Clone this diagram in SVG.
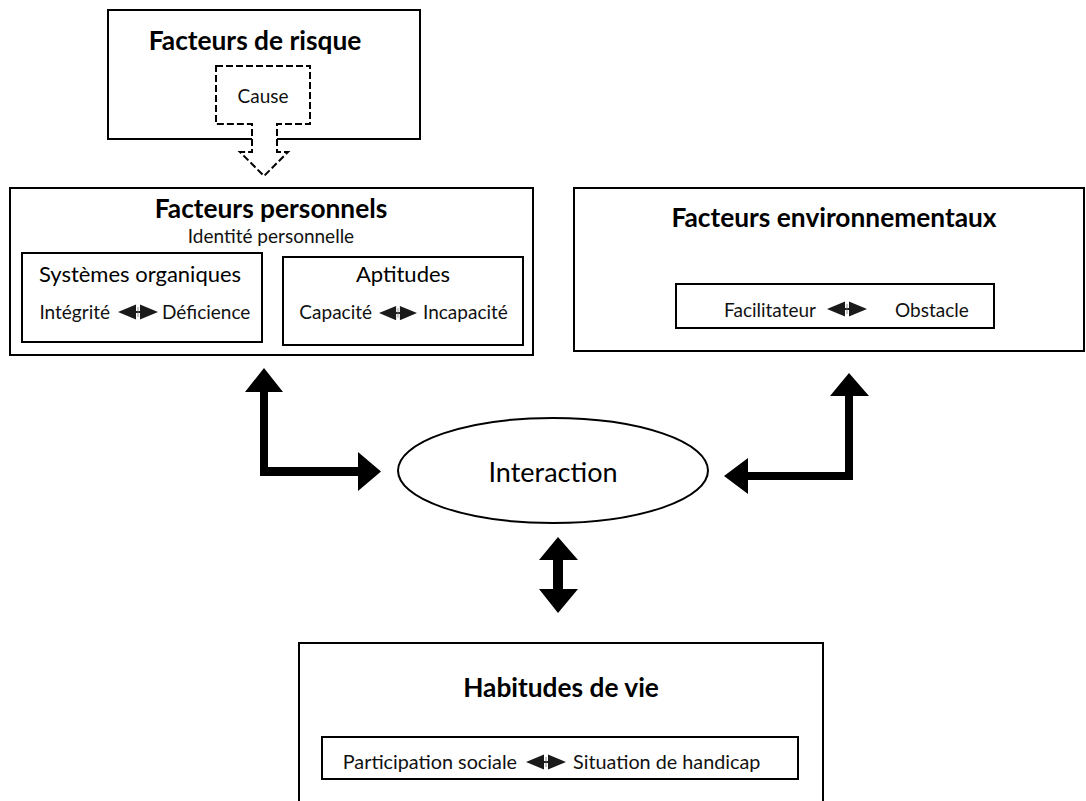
<svg xmlns="http://www.w3.org/2000/svg" xmlns:xlink="http://www.w3.org/1999/xlink" width="1086" height="801" viewBox="0 0 1086 801">
<style>
.box{fill:#fff;stroke:#000;stroke-width:2}
.inner{fill:none;stroke:#000;stroke-width:2}
.title{font-family:Lato,"Liberation Sans",sans-serif;font-weight:bold;font-size:26.3px;fill:#000}
.mid{font-family:Lato,"Liberation Sans",sans-serif;font-size:22px;fill:#000}
.small{font-family:Lato,"Liberation Sans",sans-serif;font-size:19px;fill:#111}
.hab{font-family:Lato,"Liberation Sans",sans-serif;font-size:19.8px;fill:#111}
.big{font-family:Lato,"Liberation Sans",sans-serif;font-size:27px;fill:#000}
.c{text-anchor:middle}
.e{text-anchor:end}
.conn{fill:#000;stroke:none}
.dash{fill:#fff;stroke:#000;stroke-width:2;stroke-dasharray:7 3}
</style>
<defs>
<g id="dbl">
<path d="M0,0 L18,-7.5 L18,7.5 Z M40,0 L22,-7.5 L22,7.5 Z" fill="#1a1a1a"/>
<rect x="17" y="-1" width="6" height="2" fill="#1a1a1a"/>
<rect x="19.6" y="-5" width="0.8" height="10" fill="#777"/>
</g>
</defs>

<g id="risque">
<rect class="box" x="108" y="10" width="312" height="129"/>
<text class="title c" x="255" y="50">Facteurs de risque</text>
<path class="dash" d="M216,66 H310 V124 H277 V152 H288 L264,176 L240,152 H252 V124 H216 Z"/>
<text class="small c" x="263" y="103">Cause</text>
</g>

<g id="personnels">
<rect class="box" x="10" y="188" width="523" height="167"/>
<text class="title c" x="271" y="218">Facteurs personnels</text>
<text class="small c" x="271" y="243">Identité personnelle</text>
<g id="systemes">
<rect class="inner" x="22" y="253" width="240" height="89"/>
<text class="mid c" x="140" y="282">Systèmes organiques</text>
<text class="small e" x="110" y="319">Intégrité</text>
<use xlink:href="#dbl" x="118" y="312"/>
<text class="small" x="162" y="319">Déficience</text>
</g>
<g id="aptitudes">
<rect class="inner" x="283" y="257" width="240" height="88"/>
<text class="mid c" x="403" y="282">Aptitudes</text>
<text class="small e" x="372" y="319">Capacité</text>
<use xlink:href="#dbl" x="379" y="313" transform="translate(379,313) scale(0.95) translate(-379,-313)"/>
<text class="small" x="423" y="319">Incapacité</text>
</g>
</g>

<g id="environnementaux">
<rect class="box" x="574" y="188" width="510" height="163"/>
<text class="title c" x="834" y="227">Facteurs environnementaux</text>
<rect class="inner" x="676" y="284" width="318" height="44"/>
<text class="small e" x="816" y="317">Facilitateur</text>
<use xlink:href="#dbl" x="827" y="309"/>
<text class="small" x="895" y="317">Obstacle</text>
</g>

<g id="interaction">
<ellipse cx="553" cy="470.5" rx="155" ry="52.5" fill="#fff" stroke="#000" stroke-width="2"/>
<text class="big c" x="553" y="482">Interaction</text>
</g>

<g id="habitudes">
<rect class="box" x="299" y="643" width="524" height="170"/>
<text class="title c" x="561" y="697">Habitudes de vie</text>
<rect class="inner" x="322" y="737" width="476" height="42"/>
<text class="hab e" x="517" y="769">Participation sociale</text>
<use xlink:href="#dbl" x="526" y="762"/>
<text class="hab" x="573" y="769">Situation de handicap</text>
</g>

<g id="connectors">
<path class="conn" d="M245,392 L264,368 L283,392 L268,392 L268,467 L358,467 L358,452 L381,471.5 L358,491 L358,476 L260,476 L260,392 Z"/>
<path class="conn" d="M830,396 L849,373 L869,396 L853,396 L853,480 L748,480 L748,494 L724,476 L748,458 L748,472 L845,472 L845,396 Z"/>
<path class="conn" d="M558,537 L578,560 L563,560 L563,589 L578,589 L558,613 L539,589 L553,589 L553,560 L539,560 Z"/>
</g>
</svg>
